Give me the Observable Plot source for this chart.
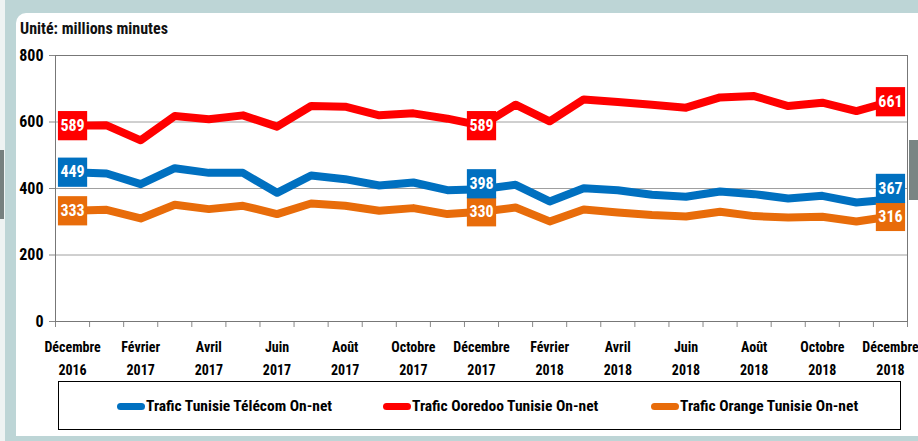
<!DOCTYPE html>
<html>
<head>
<meta charset="utf-8">
<script src="https://cdn.jsdelivr.net/npm/d3@7"></script>
<script src="https://cdn.jsdelivr.net/npm/@observablehq/plot@0.6"></script>
<style>
  html, body { margin: 0; padding: 0; width: 918px; height: 441px; overflow: hidden; background: #bdd5d6; }
  body { position: relative; font-family: "Roboto Condensed", Roboto, sans-serif; }
  #strip { position: absolute; left: 0; top: 0; width: 5px; height: 441px; background: #eef3f3; }
  #grayL { position: absolute; left: 0; top: 150px; width: 4px; height: 69px; background: #76807f; }
  #panel { position: absolute; left: 16px; top: 13px; width: 902px; height: 423px; background: #fff; border-top-left-radius: 10px; }
  #grayR { position: absolute; left: 909px; top: 140px; width: 9px; height: 60px; background: #7a8584; }
  #title { position: absolute; left: 20px; top: 21px; font-weight: bold; font-size: 16px; line-height: 1; color: #111; }
  #chart { position: absolute; left: 0; top: 0; }
  #chart g[aria-label^="y-axis"] text, #chart g[aria-label^="x-axis"] text { fill: #000; }
  #legend { position: absolute; left: 58px; top: 381px; width: 843px; height: 49px; border: 1px solid #000; box-sizing: border-box; background: #fff; }
  .item { position: absolute; top: 15px; display: flex; align-items: center; font-weight: bold; font-size: 15.5px; color: #000; white-space: nowrap; }
  .sw { width: 28px; height: 7px; border-radius: 4px; margin-right: 1px; }
</style>
</head>
<body>
<div id="strip"></div>
<div id="grayL"></div>
<div id="panel"></div>
<div id="grayR"></div>
<div id="title">Unité: millions minutes</div>
<div id="chart"></div>
<div id="legend"></div>
<script>
// Categories: months from December 2016 to December 2018
const months = [
  "Décembre 2016","Janvier 2017","Février 2017","Mars 2017","Avril 2017","Mai 2017","Juin 2017",
  "Juillet 2017","Août 2017","Septembre 2017","Octobre 2017","Novembre 2017","Décembre 2017",
  "Janvier 2018","Février 2018","Mars 2018","Avril 2018","Mai 2018","Juin 2018","Juillet 2018",
  "Août 2018","Septembre 2018","Octobre 2018","Novembre 2018","Décembre 2018"
];
// Tick labels shown every other month
const tickLabels = [
  "Décembre\n2016","Février\n2017","Avril\n2017","Juin\n2017","Août\n2017","Octobre\n2017",
  "Décembre\n2017","Février\n2018","Avril\n2018","Juin\n2018","Août\n2018","Octobre\n2018","Décembre\n2018"
];
const seriesNames = ["Trafic Tunisie Télécom On-net", "Trafic Ooredoo Tunisie On-net", "Trafic Orange Tunisie On-net"];
const seriesColors = ["#0070c0", "#ff0000", "#e86c0a"];

const tunisieTelecom = [449,445,413,461,447,447,387,439,428,409,418,395,398,411,361,401,395,381,375,391,383,370,378,358,367];
const ooredoo        = [589,590,545,618,608,620,586,648,646,620,626,610,589,652,602,668,660,652,643,674,678,648,658,633,661];
const orange         = [333,336,310,351,338,348,323,355,348,333,341,323,330,343,301,337,328,320,316,330,317,313,315,301,316];

const yTicks = [0, 200, 400, 600, 800];
const labeledMonths = ["Décembre 2016", "Décembre 2017", "Décembre 2018"];

const W = 918, H = 380, mL = 55, mR = 11, mT = 55, mB = 59;
const yDomain = [0, 800];
const unitsPerPx = (yDomain[1] - yDomain[0]) / (H - mT - mB);
const boxGapPx = 28;

const allSeries = [tunisieTelecom, ooredoo, orange];
const data = [];
allSeries.forEach((vals, s) => vals.forEach((v, i) => data.push({series: seriesNames[s], i, month: months[i], value: v})));

// Value labels; push a label up when it would overlap the label below it (as the spreadsheet did)
const labelData = [];
labeledMonths.forEach(m => {
  const i = months.indexOf(m);
  const items = allSeries.map((vals, s) => ({series: seriesNames[s], i, value: vals[i], pos: vals[i]}))
    .sort((a, b) => a.value - b.value);
  for (let k = 1; k < items.length; k++) {
    const minPos = items[k - 1].pos + boxGapPx * unitsPerPx;
    if (items[k].pos < minPos) items[k].pos = minPos;
  }
  labelData.push(...items);
});
const boundaries = d3.range(months.length + 1).map(k => k - 0.5);
const tickIdx = tickLabels.map((t, k) => k * 2);

const font = '"Roboto Condensed", Roboto, sans-serif';

const chart = Plot.plot({
  width: W,
  height: H,
  marginLeft: mL,
  marginRight: mR,
  marginTop: mT,
  marginBottom: mB,
  style: {background: "transparent", fontFamily: font, fontSize: "16px", fontWeight: "bold", color: "#888", overflow: "visible"},
  x: {domain: [-0.5, months.length - 0.5], ticks: boundaries, tickFormat: () => "", tickSize: 6, label: null},
  y: {domain: yDomain, ticks: yTicks, tickSize: 6, tickPadding: 6, label: null},
  color: {domain: seriesNames, range: seriesColors},
  marks: [
    Plot.ruleY(yTicks, {stroke: "#a0a0a0", strokeWidth: 1}),
    Plot.frame({stroke: "#777"}),
    Plot.line(data, {x: "i", y: "value", z: "series", stroke: "series", strokeWidth: 8, strokeLinejoin: "round"}),
    Plot.dot(labelData, {x: "i", y: "pos", fill: "series", symbol: "square", r: 16.5, stroke: null}),
    Plot.text(labelData, {x: "i", y: "pos", text: d => String(d.value), fill: "white", fontWeight: "bold", fontSize: 16}),
    Plot.text(tickIdx, {x: d => d, text: (d, k) => tickLabels[k], frameAnchor: "bottom", lineAnchor: "top", dy: 15, lineHeight: 1.6, fill: "#000", fontWeight: "bold", fontSize: 14})
  ]
});
document.getElementById("chart").appendChild(chart);

// Legend
const legend = document.getElementById("legend");
const legendLeft = [58, 324, 592];
seriesNames.forEach((name, s) => {
  const it = document.createElement("div");
  it.className = "item";
  it.style.left = legendLeft[s] + "px";
  const sw = document.createElement("span");
  sw.className = "sw";
  sw.style.background = seriesColors[s];
  it.appendChild(sw);
  it.appendChild(document.createTextNode(name));
  legend.appendChild(it);
});
</script>
</body>
</html>
